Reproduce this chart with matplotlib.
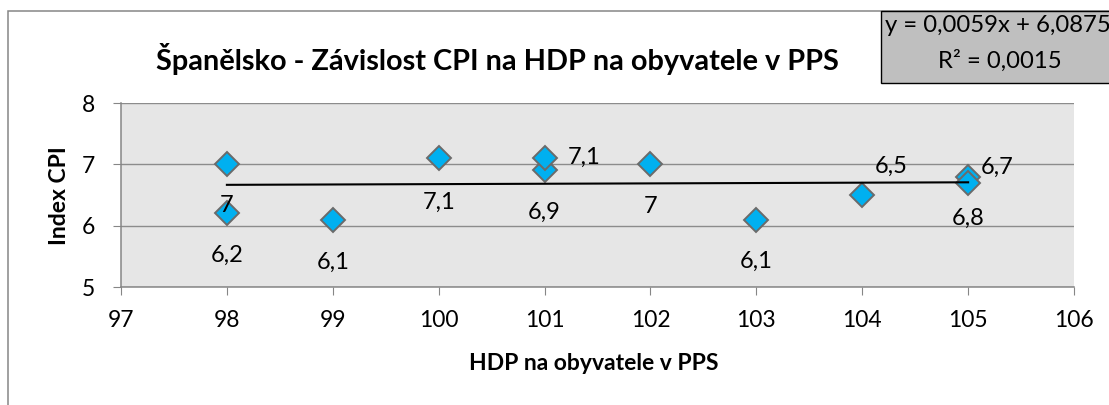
import matplotlib
matplotlib.use("Agg")
import matplotlib.pyplot as plt
from matplotlib.patches import Rectangle

plt.rcParams['font.family'] = ['Lato', 'DejaVu Sans']

# GDP per capita in PPS vs. CPI index, Spain
hdp = [98, 98, 99, 100, 101, 101, 102, 103, 104, 105, 105]
cpi = [7.0, 6.2, 6.1, 7.1, 6.9, 7.1, 7.0, 6.1, 6.5, 6.8, 6.7]

# Linear trend as reported
slope = 0.0059
intercept = 6.0875
r_squared = 0.0015

x_ticks = [97, 98, 99, 100, 101, 102, 103, 104, 105, 106]
y_ticks = [5, 6, 7, 8]

title = "Španělsko - Závislost CPI na HDP na obyvatele v PPS"
x_title = "HDP na obyvatele v PPS"
y_title = "Index CPI"

# label placement (dx, dy in pixels) for each point
label_offsets = [(0, -41), (0, -42), (0, -43), (0, -44), (0, -42), (40, 1),
                 (0, -42), (0, -42), (29, 29), (0, -42), (29, 15)]


def cz(v, fmt="{:g}"):
    return fmt.format(v).replace(".", ",")


W, H = 1109, 405
fig = plt.figure(figsize=(W / 100, H / 100), dpi=100)
fig.patch.set_facecolor("white")

# outer chart frame
fig.patches.append(Rectangle((8 / W, -0.1), 1.2, (H - 11) / H + 0.1,
                             transform=fig.transFigure, facecolor="none",
                             edgecolor="#868686", linewidth=1.1, zorder=0))

ax = fig.add_axes([121 / W, (H - 287) / H, (1074 - 121) / W, (287 - 103) / H])
ax.set_facecolor("#E6E6E6")
ax.set_xlim(97, 106)
ax.set_ylim(5, 8)
ax.set_xticks(x_ticks)
ax.set_yticks(y_ticks)
ax.set_xticklabels([str(t) for t in x_ticks])
ax.set_yticklabels([str(t) for t in y_ticks])

for s in ("top", "right"):
    ax.spines[s].set_visible(False)
for s in ("left", "bottom"):
    ax.spines[s].set_color("#868686")
    ax.spines[s].set_linewidth(1.1)

ax.grid(axis="y", color="#8C8C8C", linewidth=1.0)
ax.set_axisbelow(True)
ax.tick_params(axis="both", direction="out", length=5.8, width=0.8,
               color="#868686", labelsize=16.5, labelcolor="black")
ax.tick_params(axis="x", pad=11)
ax.tick_params(axis="y", pad=13)

# scatter points
ax.plot(hdp, cpi, linestyle="none", marker="D", markersize=12.5,
        markerfacecolor="#00B0F0", markeredgecolor="#6B6B6B",
        markeredgewidth=1.4, zorder=3)

# trend line
x0, x1 = min(hdp), max(hdp)
ax.plot([x0, x1], [slope * x0 + intercept, slope * x1 + intercept],
        color="black", linewidth=1.5, zorder=4)

# data labels
for xv, yv, (dx, dy) in zip(hdp, cpi, label_offsets):
    ax.annotate(cz(yv), (xv, yv), xytext=(dx, dy), textcoords="offset pixels",
                ha="center", va="center", fontsize=17, color="black", zorder=5)

ax.set_xlabel(x_title, fontsize=16.5, fontweight="bold")
ax.xaxis.set_label_coords(594 / W, (H - 363) / H, transform=fig.transFigure)
ax.set_ylabel(y_title, fontsize=16.5, fontweight="bold")
ax.yaxis.set_label_coords(59 / W, (H - 196) / H, transform=fig.transFigure)
ax.xaxis.label.set_va("center")
ax.yaxis.label.set_va("center")

fig.text(497 / W, (H - 70) / H, title, ha="center", va="baseline",
         fontsize=20.8, fontweight="bold")

# equation box
fig.patches.append(Rectangle((881 / W, (H - 83) / H), 0.5, 72 / H,
                             transform=fig.transFigure, facecolor="#BFBFBF",
                             edgecolor="black", linewidth=1.0, zorder=2))
fig.text(998 / W, (H - 25) / H,
         f"y = {cz(slope, '{:.4f}')}x + {cz(intercept, '{:.4f}')}",
         ha="center", va="center", fontsize=17.2, zorder=3)
fig.text(1000 / W, (H - 61) / H, f"R² = {cz(r_squared, '{:.4f}')}",
         ha="center", va="center", fontsize=17.2, zorder=3)

fig.savefig("out.png", dpi=100)
